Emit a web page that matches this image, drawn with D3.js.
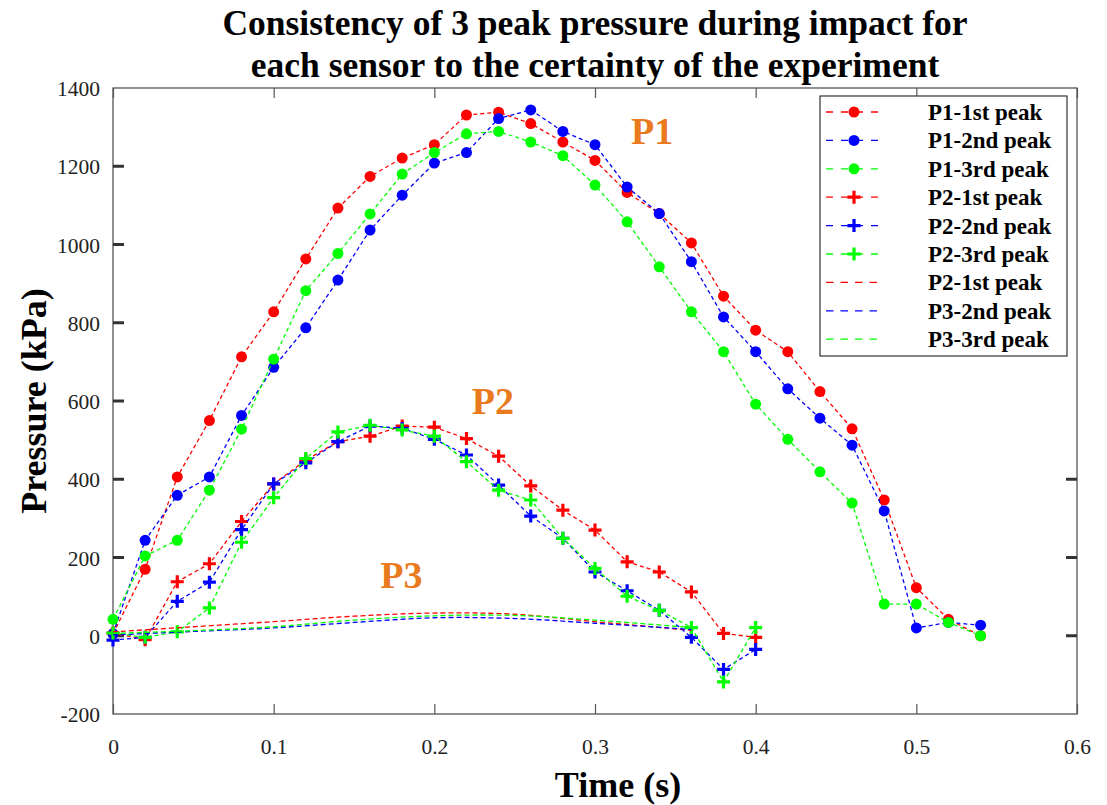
<!DOCTYPE html>
<html>
<head>
<meta charset="UTF-8">
<script src="https://cdn.jsdelivr.net/npm/d3@7"></script>
<style>
	body { margin: 0; background: #fff; }
	svg { display: block; }
</style>
</head>
<body>
<script>
	const SERIF = '"Liberation Serif", "Times New Roman", serif';

	// time samples (s)
	const tP1 = [0, 0.02, 0.04, 0.06, 0.08, 0.10, 0.12, 0.14, 0.16, 0.18, 0.20, 0.22, 0.24, 0.26,
		0.28, 0.30, 0.32, 0.34, 0.36, 0.38, 0.40, 0.42, 0.44, 0.46, 0.48, 0.50, 0.52, 0.54];
	const tP2 = [0, 0.02, 0.04, 0.06, 0.08, 0.10, 0.12, 0.14, 0.16, 0.18, 0.20, 0.22, 0.24, 0.26,
		0.28, 0.30, 0.32, 0.34, 0.36, 0.38, 0.40];
	const tP3 = [0, 0.05, 0.10, 0.15, 0.20, 0.25, 0.30, 0.36];

	// pressure (kPa)
	const p1First  = [5, 170, 406, 550, 713, 828, 963, 1093, 1174, 1221, 1255, 1331, 1338, 1309, 1262, 1215, 1133, 1079, 1004, 868, 781, 726, 624, 529, 347, 123, 42, 0];
	const p1Second = [5, 244, 359, 406, 563, 686, 787, 909, 1037, 1126, 1208, 1235, 1322, 1344, 1289, 1255, 1147, 1079, 956, 815, 726, 631, 556, 487, 319, 20, 34, 27];
	const p1Third  = [42, 204, 244, 372, 528, 707, 882, 977, 1078, 1180, 1235, 1283, 1289, 1262, 1227, 1152, 1058, 943, 828, 726, 592, 502, 419, 339, 81, 81, 34, 0];

	const p2First  = [7, -10, 138, 184, 292, 388, 449, 496, 510, 536, 533, 504, 459, 383, 321, 270, 189, 163, 112, 6, -4];
	const p2Second = [-11, -4, 88, 137, 271, 388, 442, 496, 536, 530, 502, 462, 385, 306, 249, 163, 115, 65, -4, -86, -35];
	const p2Third  = [7, -4, 10, 71, 239, 353, 453, 521, 538, 526, 510, 445, 372, 347, 249, 172, 101, 65, 21, -118, 21];

	const p3First  = [10, 23, 36, 50, 58, 55, 36, 14];
	const p3Second = [2, 11, 20, 34, 46, 44, 32, 16];
	const p3Third  = [6, 13, 23, 40, 51, 52, 40, 21];

	const legendLabels = ['P1-1st peak', 'P1-2nd peak', 'P1-3rd peak', 'P2-1st peak', 'P2-2nd peak',
		'P2-3rd peak', 'P2-1st peak', 'P3-2nd peak', 'P3-3rd peak'];
	const xTicks = [0, 0.1, 0.2, 0.3, 0.4, 0.5, 0.6];
	const yTicks = [-200, 0, 200, 400, 600, 800, 1000, 1200, 1400];

	const RED = '#ff0000', BLUE = '#0000ff', GREEN = '#00ff00';

	const series = [
		{t: tP1, v: p1First,  color: RED,   marker: 'dot'},
		{t: tP1, v: p1Second, color: BLUE,  marker: 'dot'},
		{t: tP1, v: p1Third,  color: GREEN, marker: 'dot'},
		{t: tP2, v: p2First,  color: RED,   marker: 'plus'},
		{t: tP2, v: p2Second, color: BLUE,  marker: 'plus'},
		{t: tP2, v: p2Third,  color: GREEN, marker: 'plus'},
		{t: tP3, v: p3First,  color: RED,   marker: null, smooth: true},
		{t: tP3, v: p3Second, color: BLUE,  marker: null, smooth: true},
		{t: tP3, v: p3Third,  color: GREEN, marker: null, smooth: true}
	];

	const width = 1107, height = 805;
	const margin = {top: 88, right: 30, bottom: 91, left: 113};

	const svg = d3.select('body').append('svg')
		.attr('width', width)
		.attr('height', height)
		.style('font-family', SERIF);

	const x = d3.scaleLinear().domain([0, 0.6]).range([margin.left, width - margin.right]);
	const y = d3.scaleLinear().domain([-200, 1400]).range([height - margin.bottom, margin.top]);

	// title
	svg.append('text')
		.attr('x', 595).attr('text-anchor', 'middle')
		.style('font-weight', 'bold').style('font-size', '35.5px')
		.selectAll('tspan')
		.data(['Consistency of 3 peak pressure during impact for', 'each sensor to the certainty of the experiment'])
		.enter().append('tspan')
			.attr('x', 595)
			.attr('y', (d, i) => 35 + i * 42)
			.text(d => d);

	// axes box
	const g = svg.append('g');
	g.append('rect')
		.attr('x', x(0)).attr('y', y(1400))
		.attr('width', x(0.6) - x(0)).attr('height', y(-200) - y(1400))
		.attr('fill', 'none').attr('stroke', '#555').attr('stroke-width', 1.3);

	const xAxis = d3.axisBottom(x).tickValues(xTicks).tickSize(-10).tickFormat(d => d === 0 ? '0' : d3.format('.1f')(d));
	const xg = g.append('g').attr('transform', `translate(0,${y(-200)})`).call(xAxis)
		.attr('font-family', SERIF);
	xg.select('.domain').remove();
	xg.selectAll('.tick line').attr('stroke', '#555').attr('stroke-width', 1.2);
	xg.selectAll('.tick text').attr('dy', 0).attr('y', 40).style('font-size', '21.5px').attr('fill', '#222');

	const xTop = d3.axisTop(x).tickValues(xTicks).tickSize(-10).tickFormat('');
	const xtg = g.append('g').attr('transform', `translate(0,${y(1400)})`).call(xTop);
	xtg.select('.domain').remove();
	xtg.selectAll('.tick line').attr('stroke', '#555').attr('stroke-width', 1.2);

	const yAxis = d3.axisLeft(y).tickValues(yTicks).tickSize(0).tickPadding(13).tickFormat(d => String(d));
	const yg = g.append('g').attr('transform', `translate(${x(0)},0)`).call(yAxis)
		.attr('font-family', SERIF);
	yg.select('.domain').remove();
	yg.selectAll('.tick text').style('font-size', '21.5px').attr('fill', '#222').attr('dy', '0.35em');

	// thick ticks along the left and right edges
	g.selectAll('.ltick').data(yTicks.filter(d => d > -200 && d < 1400)).enter().append('line')
		.attr('x1', x(0)).attr('x2', x(0) + 11)
		.attr('y1', d => y(d)).attr('y2', d => y(d))
		.attr('stroke', '#333').attr('stroke-width', 3);
	g.selectAll('.rtick').data([0, 200, 400]).enter().append('line')
		.attr('x1', x(0.6)).attr('x2', x(0.6) - 11)
		.attr('y1', d => y(d)).attr('y2', d => y(d))
		.attr('stroke', '#333').attr('stroke-width', 3);

	// axis labels
	svg.append('text')
		.attr('x', 618).attr('y', 797).attr('text-anchor', 'middle')
		.style('font-weight', 'bold').style('font-size', '36px')
		.text('Time (s)');
	svg.append('text')
		.attr('transform', `translate(46,${(y(1400) + y(-200)) / 2}) rotate(-90)`)
		.attr('text-anchor', 'middle')
		.style('font-weight', 'bold').style('font-size', '36px')
		.text('Pressure (kPa)');

	// lines
	const plot = svg.append('g');
	function drawMarker(sel, type, color) {
		if (type === 'dot') {
			sel.append('circle').attr('r', 5.5).attr('fill', color);
		} else if (type === 'plus') {
			sel.append('path').attr('d', 'M-6.5,0H6.5M0,-6.5V6.5')
				.attr('stroke', color).attr('stroke-width', 3.2).attr('fill', 'none');
		}
	}

	series.forEach(s => {
		const pts = s.t.map((t, i) => [t, s.v[i]]);
		const line = d3.line().x(d => x(d[0])).y(d => y(d[1]))
			.curve(s.smooth ? d3.curveCatmullRom : d3.curveLinear);
		plot.append('path').datum(pts)
			.attr('d', line)
			.attr('fill', 'none')
			.attr('stroke', s.color)
			.attr('stroke-width', 1.3)
			.attr('stroke-dasharray', s.smooth ? '5,3' : '4,3');
		if (s.marker) {
			plot.selectAll(null).data(pts).enter().append('g')
				.attr('transform', d => `translate(${x(d[0])},${y(d[1])})`)
				.each(function () { drawMarker(d3.select(this), s.marker, s.color); });
		}
	});

	// group labels
	const labels = [{text: 'P1', t: 0.3356, v: 1257}, {text: 'P2', t: 0.2365, v: 567}, {text: 'P3', t: 0.1795, v: 122}];
	svg.selectAll('.plabel').data(labels).enter().append('text')
		.attr('x', d => x(d.t)).attr('y', d => y(d.v))
		.attr('text-anchor', 'middle')
		.style('font-weight', 'bold').style('font-size', '38px')
		.attr('fill', '#e97a1e')
		.text(d => d.text);

	// legend
	const leg = svg.append('g');
	leg.append('rect')
		.attr('x', 820).attr('y', 96).attr('width', 247).attr('height', 260)
		.attr('fill', '#fff').attr('stroke', '#333').attr('stroke-width', 1.2);
	const rows = leg.selectAll('.row').data(series).enter().append('g')
		.attr('transform', (d, i) => `translate(0,${112 + i * 28.4})`);
	rows.append('line')
		.attr('x1', 826).attr('x2', 880)
		.attr('stroke', d => d.color).attr('stroke-width', 1.3)
		.attr('stroke-dasharray', d => d.marker ? '7,8' : '7.5,7');
	rows.each(function (d) {
		const r = d3.select(this).append('g').attr('transform', 'translate(854,0)');
		drawMarker(r, d.marker, d.color);
	});
	rows.append('text')
		.attr('x', 928).attr('dy', '0.35em')
		.style('font-weight', 'bold').style('font-size', '23px')
		.text((d, i) => legendLabels[i]);
</script>
</body>
</html>
